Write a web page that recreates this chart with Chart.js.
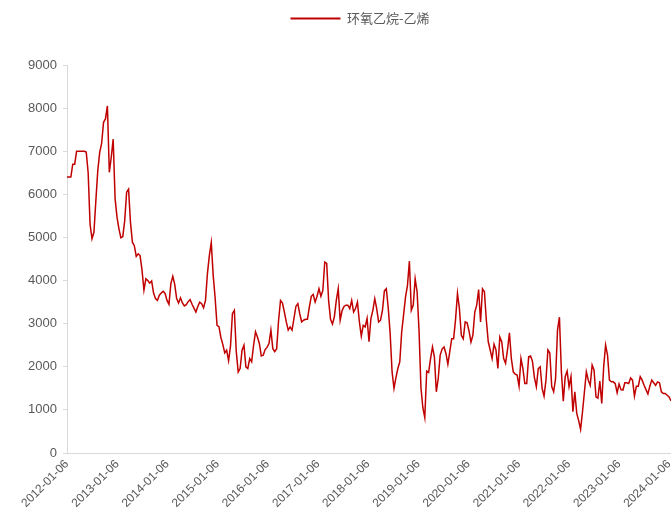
<!DOCTYPE html>
<html><head><meta charset="utf-8">
<script src="https://cdn.jsdelivr.net/npm/chart.js@4.4.0/dist/chart.umd.min.js"></script>
<style>html,body{margin:0;padding:0;background:#fff;} canvas{display:block;}</style>
</head><body>
<canvas id="c" width="671" height="519"></canvas>
<script>
const seriesName = '环氧乙烷-乙烯';
const startDate = '2012-01-06';
const stepDays = 14;
const tickLabels = ['2012-01-06','2013-01-06','2014-01-06','2015-01-06','2016-01-06','2017-01-06',
  '2018-01-06','2019-01-06','2020-01-06','2021-01-06','2022-01-06','2023-01-06','2024-01-06'];
const yTicks = [0,1000,2000,3000,4000,5000,6000,7000,8000,9000];
const spread = [
  6400,6400,6400,6700,6700,7000,7000,7000,7000,7000,
  6980,6500,5300,4970,5120,5850,6550,6975,7180,7670,
  7750,8050,6510,6860,7280,5900,5470,5200,4990,5020,
  5390,6050,6120,5350,4890,4810,4560,4620,4580,4240,
  3780,4040,4000,3940,3990,3710,3580,3540,3660,3710,
  3750,3700,3540,3450,3930,4100,3910,3580,3480,3600,
  3480,3410,3440,3510,3560,3450,3360,3270,3400,3500,
  3465,3370,3540,4160,4580,4880,4120,3600,2960,2930,
  2680,2520,2320,2385,2140,2480,3230,3310,2350,1880,
  1960,2385,2500,2000,1960,2190,2115,2500,2810,2690,
  2540,2250,2270,2400,2450,2540,2850,2420,2350,2420,
  3080,3540,3480,3270,3040,2850,2925,2850,3120,3400,
  3465,3230,3040,3080,3100,3100,3390,3635,3680,3500,
  3635,3810,3635,3770,4430,4400,3540,3100,2990,3160,
  3540,3810,3080,3300,3400,3430,3430,3350,3540,3270,
  3350,3500,3040,2710,2960,2925,3120,2580,3120,3310,
  3580,3350,3040,3080,3310,3760,3810,3370,2770,1880,
  1500,1750,1960,2115,2810,3210,3620,3890,4450,3310,
  3430,4040,3740,2850,1520,1050,820,1900,1870,2190,
  2460,2230,1420,1730,2270,2410,2460,2310,2060,2350,
  2650,2650,3100,3700,3350,2730,2650,3040,3020,2830,
  2570,2730,3270,3430,3790,3040,3810,3740,3080,2580,
  2390,2190,2520,2390,1960,2690,2580,2190,2080,2390,
  2790,2190,1880,1830,1810,1550,2190,1960,1610,1610,
  2230,2250,2120,1750,1540,1960,2000,1500,1320,1690,
  2390,2320,1540,1420,1730,2850,3150,1900,1200,1770,
  1900,1540,1770,960,1420,920,750,550,960,1420,
  1880,1690,1570,2040,1920,1300,1270,1670,1150,2000,
  2500,2270,1690,1650,1650,1610,1400,1600,1470,1460,
  1630,1630,1610,1740,1690,1320,1550,1550,1770,1690,
  1570,1470,1370,1550,1690,1630,1570,1650,1630,1420,
  1380,1380,1340,1300,1210
];

const DAY = 864e5;
const t0 = Date.parse(startDate + 'T00:00:00Z');
const dayOf = s => Math.round((Date.parse(s + 'T00:00:00Z') - t0) / DAY);
const dates = spread.map((_, i) => new Date(t0 + i * stepDays * DAY).toISOString().slice(0, 10));
const points = spread.map((v, i) => ({ x: dayOf(dates[i]), y: v }));
const tickDays = tickLabels.map(dayOf);
const FONT = '"Liberation Sans", Arial, sans-serif';

const legendShift = {
  id: 'legendShift',
  afterLayout(chart) {
    const lg = chart.legend;
    if (lg) { lg.left -= 9; lg.right -= 9; }
  }
};

new Chart(document.getElementById('c'), {
  type: 'line',
  data: { datasets: [{
    label: seriesName, data: points,
    borderColor: '#C00000', backgroundColor: '#C00000',
    borderWidth: 1.5, pointRadius: 0, tension: 0, fill: false
  }]},
  plugins: [legendShift],
  options: {
    responsive: false, animation: false, devicePixelRatio: 1,
    layout: { padding: { top: 2, right: 0, left: 0, bottom: 0 } },
    plugins: {
      legend: {
        position: 'top', fullSize: false,
        labels: {
          boxWidth: 50, boxHeight: 2, padding: 10, color: '#595959',
          font: { family: '"Noto Sans CJK SC"', size: 13 },
          generateLabels: (chart) => Chart.defaults.plugins.legend.labels.generateLabels(chart)
            .map(l => Object.assign(l, { lineWidth: 0, fillStyle: '#C00000' }))
        }
      },
      title: { display: true, text: '', weight: 500, padding: { top: 20, bottom: 0 }, font: { size: 10, lineHeight: 1 } },
      tooltip: { enabled: false }
    },
    scales: {
      x: {
        type: 'linear', min: 0, max: points[points.length - 1].x,
        afterBuildTicks: s => { s.ticks = tickDays.map(v => ({ value: v })); },
        afterFit: s => { s.height = 66; s.paddingRight = 0; s.paddingLeft = 0; },
        ticks: {
          autoSkip: false, minRotation: 45, maxRotation: 45, padding: 4,
          color: '#595959', font: { family: FONT, size: 12 },
          callback: v => tickLabels[tickDays.indexOf(v)]
        },
        grid: { display: true, drawOnChartArea: false, drawTicks: false },
        border: { display: true, color: '#d9d9d9', width: 1 }
      },
      y: {
        min: 0, max: 9000,
        afterBuildTicks: s => { s.ticks = yTicks.map(v => ({ value: v })); },
        afterFit: s => { s.width = 67; s.paddingTop = 0; s.paddingBottom = 0; },
        ticks: { padding: 6, color: '#595959', font: { family: FONT, size: 13 }, callback: v => String(v) },
        grid: { drawOnChartArea: false, drawTicks: true, tickLength: 4, color: '#d9d9d9' },
        border: { display: true, color: '#d9d9d9', width: 1 }
      }
    }
  }
});
</script>
</body></html>
